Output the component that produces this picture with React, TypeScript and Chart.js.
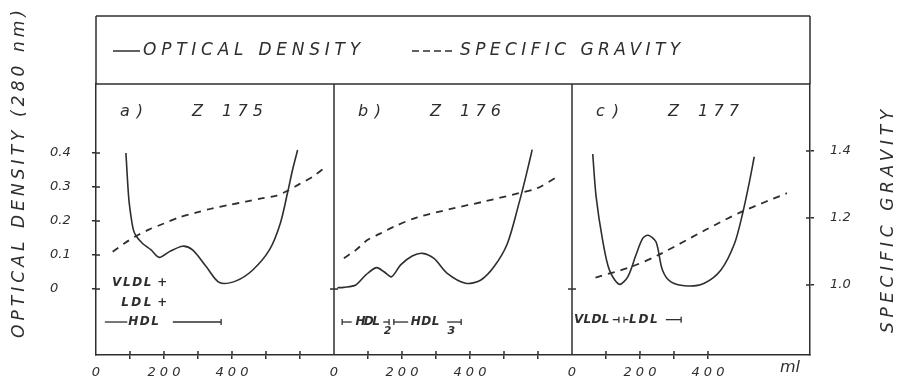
import React, { useEffect, useRef } from 'react';
import { Chart, registerables } from 'chart.js';
Chart.register(...registerables);

const PANEL_ML = 700;
const panelLetters = ['a )', 'b )', 'c )'];
const panelCodes = ['175', '176', '177'];

// optical density (280 nm), solid curves — x in ml within each panel
const odA_ml = [88, 96, 103, 110, 118, 137, 162, 186, 216, 255, 284, 324, 363, 412, 461, 510, 542, 564, 578, 593];
const odA = [0.40, 0.271, 0.213, 0.174, 0.156, 0.134, 0.115, 0.093, 0.110, 0.126, 0.115, 0.066, 0.019, 0.024, 0.056, 0.115, 0.193, 0.286, 0.35, 0.409];
const odB_ml = [10, 29, 64, 93, 125, 147, 169, 196, 230, 260, 294, 333, 387, 431, 471, 510, 544, 564, 583];
const odB = [0.004, 0.005, 0.012, 0.041, 0.063, 0.051, 0.036, 0.071, 0.097, 0.105, 0.09, 0.046, 0.017, 0.026, 0.066, 0.134, 0.252, 0.33, 0.41];
const odC_ml = [61, 71, 90, 110, 139, 164, 188, 208, 224, 247, 266, 291, 340, 389, 438, 478, 502, 521, 536];
const odC = [0.397, 0.271, 0.144, 0.056, 0.014, 0.036, 0.10, 0.149, 0.158, 0.139, 0.056, 0.021, 0.009, 0.017, 0.056, 0.134, 0.223, 0.311, 0.389];

// specific gravity, dashed curves
const sgA_ml = [49, 83, 118, 157, 196, 245, 294, 343, 392, 441, 490, 529, 559, 598, 637, 676];
const sgA = [1.099, 1.124, 1.146, 1.166, 1.182, 1.202, 1.216, 1.229, 1.239, 1.249, 1.259, 1.266, 1.279, 1.301, 1.323, 1.353];
const sgB_ml = [29, 64, 98, 137, 176, 245, 343, 441, 544, 598, 657];
const sgB = [1.080, 1.104, 1.134, 1.154, 1.174, 1.202, 1.227, 1.249, 1.274, 1.289, 1.323];
const sgC_ml = [69, 176, 255, 392, 500, 632];
const sgC = [1.022, 1.055, 1.090, 1.164, 1.219, 1.274];

// ticks
const odTicks = [0, 0.1, 0.2, 0.3, 0.4];
const sgTicks = [1.0, 1.2, 1.4];
const mlLabels = [0, 200, 400];
const mlTickMax = [600, 600, 400];

const INK = '#2e2e2e';
const FONT = '"DejaVu Sans", sans-serif';

const odSets = [[odA_ml, odA], [odB_ml, odB], [odC_ml, odC]];
const sgSets = [[sgA_ml, sgA], [sgB_ml, sgB], [sgC_ml, sgC]];

const toPts = (xs: number[], ys: number[], p: number) => xs.map((x, i) => ({ x: p * PANEL_ML + x, y: ys[i] }));

function drawFit(ctx: CanvasRenderingContext2D, text: string, x0: number, x1: number, y: number) {
  (ctx as any).letterSpacing = '0px';
  ctx.textAlign = 'left';
  const w = ctx.measureText(text).width;
  const n = [...text].length;
  const ls = n > 1 ? (x1 - x0 - w) / (n - 1) : 0;
  (ctx as any).letterSpacing = ls.toFixed(2) + 'px';
  ctx.fillText(text, x0, y);
  (ctx as any).letterSpacing = '0px';
}

function line(ctx: CanvasRenderingContext2D, x0: number, y0: number, x1: number, y1: number) {
  ctx.beginPath();
  ctx.moveTo(x0, y0);
  ctx.lineTo(x1, y1);
  ctx.stroke();
}

const framePlugin = {
  id: 'frame',
  afterDraw(chart: any) {
    const { ctx, chartArea: ca, scales } = chart;
    const xs = scales.x, yo = scales.od, ys = scales.sg;
    const px = (p: number, ml: number) => xs.getPixelForValue(p * PANEL_ML + ml);
    const top = ca.top - 68;
    ctx.save();
    ctx.strokeStyle = INK;
    ctx.fillStyle = INK;
    ctx.lineWidth = 1.5;
    ctx.setLineDash([]);
    // frame & legend box
    line(ctx, ca.left, top, ca.right, top);
    line(ctx, ca.left, top, ca.left, ca.top);
    line(ctx, ca.right, top, ca.right, ca.top);
    line(ctx, ca.left, ca.top, ca.right, ca.top);
    const y0 = yo.getPixelForValue(0);
    for (let p = 1; p < 3; p++) {
      const dx = px(p, 0);
      line(ctx, dx, ca.top, dx, ca.bottom);
      line(ctx, dx - 4, y0, dx + 4, y0);
    }
    // inner tick halves
    odTicks.forEach(v => { const y = yo.getPixelForValue(v); line(ctx, ca.left, y, ca.left + 4, y); });
    sgTicks.forEach(v => { const y = ys.getPixelForValue(v); line(ctx, ca.right - 4, y, ca.right, y); });
    for (let p = 0; p < 3; p++) {
      for (let ml = 100; ml <= mlTickMax[p]; ml += 100) {
        const x = px(p, ml);
        line(ctx, x, ca.bottom - 4, x, ca.bottom);
      }
    }
    // legend
    const ly = top + 35;
    line(ctx, ca.left + 17, ly, ca.left + 44, ly);
    ctx.setLineDash([7, 4]);
    line(ctx, ca.left + 316, ly, ca.left + 360, ly);
    ctx.setLineDash([]);
    ctx.textBaseline = 'middle';
    ctx.font = `italic 17px ${FONT}`;
    drawFit(ctx, 'OPTICAL DENSITY', ca.left + 47, ca.left + 264, ly);
    drawFit(ctx, 'SPECIFIC GRAVITY', ca.left + 364, ca.left + 584, ly);
    // panel labels
    ctx.font = `italic 16px ${FONT}`;
    for (let p = 0; p < 3; p++) {
      const l = px(p, 0);
      const ty = ca.top + 28;
      drawFit(ctx, panelLetters[p], l + 24, l + 47, ty);
      ctx.fillText('Z', l + 96, ty);
      drawFit(ctx, panelCodes[p], l + 126, l + 167, ty);
    }
    // axis titles
    ctx.font = `italic 17px ${FONT}`;
    ctx.save();
    ctx.translate(20, 338);
    ctx.rotate(-Math.PI / 2);
    drawFit(ctx, 'OPTICAL DENSITY (280 nm)', 0, 328, 0);
    ctx.restore();
    ctx.save();
    ctx.translate(889, 333);
    ctx.rotate(-Math.PI / 2);
    drawFit(ctx, 'SPECIFIC GRAVITY', 0, 223, 0);
    ctx.restore();
    ctx.font = `italic 16px ${FONT}`;
    ctx.textAlign = 'center';
    ctx.fillText('ml', ca.right - 20, ca.bottom + 13);
    // fraction annotations
    ctx.font = `italic bold 12px ${FONT}`;
    ctx.lineWidth = 1.3;
    // panel a
    const ya1 = yo.getPixelForValue(0.018), ya2 = yo.getPixelForValue(-0.041), ya3 = yo.getPixelForValue(-0.097);
    drawFit(ctx, 'VLDL', px(0, 47), px(0, 163), ya1);
    drawFit(ctx, '+', px(0, 180), px(0, 190), ya1);
    drawFit(ctx, 'LDL', px(0, 74), px(0, 163), ya2);
    drawFit(ctx, '+', px(0, 180), px(0, 190), ya2);
    line(ctx, px(0, 26), ya3, px(0, 92), ya3);
    drawFit(ctx, 'HDL', px(0, 95), px(0, 185), ya3);
    line(ctx, px(0, 226), ya3, px(0, 368), ya3);
    line(ctx, px(0, 368), ya3 - 3, px(0, 368), ya3 + 3);
    // panel b
    const yb = ya3;
    line(ctx, px(1, 24), yb - 3, px(1, 24), yb + 3);
    line(ctx, px(1, 24), yb, px(1, 52), yb);
    drawFit(ctx, 'HDL', px(1, 63), px(1, 135), yb);
    ctx.font = `italic bold 11px ${FONT}`;
    ctx.fillText('2', px(1, 146), yb + 9);
    ctx.fillText('3', px(1, 334), yb + 9);
    ctx.font = `italic bold 12px ${FONT}`;
    line(ctx, px(1, 145), yb, px(1, 162), yb);
    line(ctx, px(1, 162), yb - 3, px(1, 162), yb + 3);
    line(ctx, px(1, 176), yb - 3, px(1, 176), yb + 3);
    line(ctx, px(1, 176), yb, px(1, 218), yb);
    drawFit(ctx, 'HDL', px(1, 226), px(1, 310), yb);
    line(ctx, px(1, 333), yb, px(1, 374), yb);
    line(ctx, px(1, 374), yb - 3, px(1, 374), yb + 3);
    // panel c
    const yc = yo.getPixelForValue(-0.09);
    drawFit(ctx, 'VLDL', px(2, 6), px(2, 110), yc);
    line(ctx, px(2, 120), yc, px(2, 138), yc);
    line(ctx, px(2, 138), yc - 3, px(2, 138), yc + 3);
    line(ctx, px(2, 153), yc - 3, px(2, 153), yc + 3);
    line(ctx, px(2, 153), yc, px(2, 166), yc);
    drawFit(ctx, 'LDL', px(2, 168), px(2, 252), yc);
    line(ctx, px(2, 276), yc, px(2, 321), yc);
    line(ctx, px(2, 321), yc - 3, px(2, 321), yc + 3);
    ctx.restore();
  },
};

const tickFont = { family: FONT, style: 'italic' as const, size: 13 };

export default function App() {
  const ref = useRef<HTMLCanvasElement>(null);
  useEffect(() => {
    const datasets: any[] = [];
    odSets.forEach(([xs, ys], p) => datasets.push({
      data: toPts(xs, ys, p), yAxisID: 'od', borderColor: INK, borderWidth: 1.6,
      pointRadius: 0, tension: 0.3, fill: false,
    }));
    sgSets.forEach(([xs, ys], p) => datasets.push({
      data: toPts(xs, ys, p), yAxisID: 'sg', borderColor: INK, borderWidth: 1.8,
      borderDash: [7, 6], pointRadius: 0, tension: 0.3, fill: false,
    }));
    const chart = new Chart(ref.current!, {
      type: 'line',
      data: { datasets },
      plugins: [framePlugin],
      options: {
        animation: false,
        responsive: false,
        devicePixelRatio: 1,
        layout: { padding: { top: 84, left: 50, right: 0, bottom: 0 } },
        plugins: { legend: { display: false }, tooltip: { enabled: false }, title: { display: false } },
        scales: {
          x: {
            type: 'linear', min: 0, max: 3 * PANEL_ML,
            afterBuildTicks: (s: any) => {
              const t: any[] = [];
              for (let v = 0; v <= 3 * PANEL_ML; v += 100) t.push({ value: v });
              s.ticks = t;
            },
            afterFit: (s: any) => { s.height = 24; },
            border: { display: true, color: INK, width: 1.5 },
            grid: {
              drawOnChartArea: false, drawTicks: true, tickLength: 4, lineWidth: 1.5,
              color: (c: any) => {
                const v = c.tick ? c.tick.value : 0;
                const p = Math.floor(v / PANEL_ML);
                const local = v - p * PANEL_ML;
                return p < 3 && local > 0 && local <= mlTickMax[p] ? INK : 'rgba(0,0,0,0)';
              },
            },
            ticks: {
              autoSkip: false, maxRotation: 0, padding: 6, color: INK, font: tickFont,
              callback: (v: any) => {
                const p = Math.floor(v / PANEL_ML);
                const local = v - p * PANEL_ML;
                return p < 3 && mlLabels.includes(local) ? String(local).split('').join(' ') : '';
              },
            },
          },
          od: {
            type: 'linear', position: 'left', min: -0.194, max: 0.603,
            afterBuildTicks: (s: any) => { s.ticks = odTicks.map(v => ({ value: v })); },
            afterFit: (s: any) => { s.width = 46; },
            border: { display: true, color: INK, width: 1.5 },
            grid: { drawOnChartArea: false, drawTicks: true, tickLength: 4, lineWidth: 1.5, color: INK },
            ticks: {
              crossAlign: 'far', color: INK, font: tickFont,
              callback: (v: any) => (v === 0 ? '0' : Number(v).toFixed(1)),
            },
          },
          sg: {
            type: 'linear', position: 'right', min: 0.791, max: 1.6,
            afterBuildTicks: (s: any) => { s.ticks = sgTicks.map(v => ({ value: v })); },
            afterFit: (s: any) => { s.width = 90; },
            border: { display: true, color: INK, width: 1.5 },
            grid: { drawOnChartArea: false, drawTicks: true, tickLength: 4, lineWidth: 1.5, color: INK },
            ticks: { padding: 16, color: INK, font: tickFont, callback: (v: any) => Number(v).toFixed(1) },
          },
        },
      } as any,
    });
    return () => chart.destroy();
  }, []);
  return (
    <div style={{ position: 'fixed', left: 0, top: 0, width: 900, height: 379, background: '#fff' }}>
      <canvas ref={ref} width={900} height={379} style={{ display: 'block', width: 900, height: 379 }} />
    </div>
  );
}
